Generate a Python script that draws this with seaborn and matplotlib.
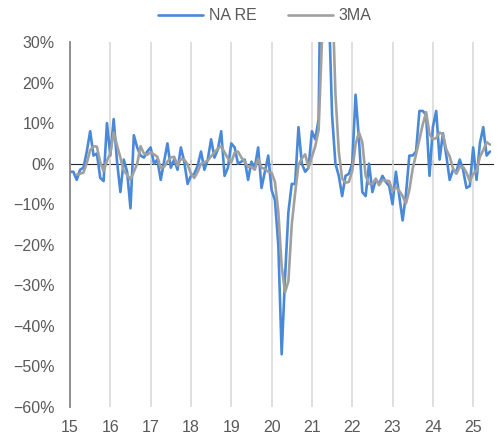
import numpy as np
import pandas as pd
import seaborn as sns
import matplotlib
matplotlib.use("Agg")
import matplotlib.pyplot as plt

# monthly YoY, Jan 2015 .. Jun 2025 (%)
na_re = [-2, -2, -4, -1.5, -1, 3, 8, 2, 2.5, -3.5, -4.3, 10,
         2, 11, 0.5, -7, 1, -2, -11, 7, 4, 2, 1.5, 3,
         4, 0, 1, -4, 0.5, 5, -1, 1, -1.5, 4, 0.5, -5,
         -3, -2.5, -0.5, 3, -1.5, 1, 6, 1.5, 3.5, 8, -3, -1,
         5, 4, 0, 0.5, 1, -4, 0.5, -1, 4, -6, -2, 2,
         -6.5, -9, -20, -47, -28, -12, -5, -5, 9, 0, -2, -1,
         8, 6, 11, 75, 80, 40, 12, 0, -3, -8, -3, -2.5,
         0, 17, 6, -7, -8, 0, -7, -4, -5, -3, -4.5, -5.5,
         -10, -2, -8, -14, -7.5, 2, 2, 3, 13, 13, 12, -3,
         9, 13, 1, 7.5, 2, -4, -1.5, -2, 1, -1.5, -6, -5.5,
         4, -4, 5, 9, 2, 3]

ma3 = [np.nan, np.nan, -2.7, -2.5, -2.2, 0.2, 3.3, 4.3, 4.2, 0.3, -1.8, 0.7,
       2.6, 7.7, 4.5, 1.5, -1.8, -2.7, -4.0, -2.0, 0.0, 4.3, 2.5, 2.2,
       2.8, 2.3, 1.7, -1.0, -0.8, 0.5, 1.5, 1.7, -0.5, 1.2, 1.0, -0.2,
       -2.5, -3.5, -2.0, 0.0, 0.3, 0.8, 1.8, 2.8, 3.7, 4.3, 2.8, 1.3,
       0.3, 2.7, 3.0, 1.5, 0.5, -0.8, -0.8, -1.5, 1.2, -1.0, -1.3, -2.0,
       -2.2, -4.5, -11.8, -25.3, -31.7, -29.0, -15.0, -7.3, -0.3, 1.3, 2.3, -1.0,
       1.7, 4.3, 8.3, 30.7, 55.3, 65.0, 44.0, 17.3, 3.0, -3.7, -4.7, -4.5,
       -1.8, 4.8, 7.7, 5.3, -3.0, -5.0, -5.0, -3.7, -5.3, -4.0, -4.2, -4.3,
       -6.7, -5.8, -6.7, -8.0, -9.8, -6.5, -1.2, 2.3, 6.0, 9.7, 12.7, 7.3,
       6.0, 6.3, 7.7, 7.2, 3.5, 1.8, -1.2, -2.5, -0.8, -0.8, -2.2, -4.3,
       -2.5, -1.8, 1.7, 3.3, 5.3, 4.7]

year_labels = ["15", "16", "17", "18", "19", "20", "21", "22", "23", "24", "25"]

df = pd.DataFrame({"m": np.arange(len(na_re)), "NA RE": na_re, "3MA": ma3})

sns.set_style("white")
plt.rcParams["font.family"] = ["Liberation Sans", "DejaVu Sans"]

fig = plt.figure(figsize=(4.98, 4.37), dpi=100)
ax = fig.add_axes([70 / 498, 1 - 407 / 437, 423 / 498, 365 / 437])

sns.lineplot(data=df, x="m", y="NA RE", color="#4a89d8", lw=1.9, ax=ax, label="NA RE")
sns.lineplot(data=df, x="m", y="3MA", color="#a0a0a0", lw=1.9, ax=ax, label="3MA")

ax.set_xlim(0, 125.9)
ax.set_ylim(-60, 30)
ax.set_xlabel("")
ax.set_ylabel("")

tc = "#595959"
ax.set_yticks(range(-60, 31, 10))
ax.set_yticklabels([f"{v}%".replace("-", "\u2212") for v in range(-60, 31, 10)],
                   fontsize=11.5, color=tc)
ax.tick_params(axis="y", direction="in", length=3.5, width=1.2, color="#888888", pad=11)

xt = [12 * k for k in range(len(year_labels))]
ax.set_xticks(xt)
ax.set_xticklabels(year_labels, fontsize=11.5, color=tc)
ax.tick_params(axis="x", length=0, pad=9)
ax.grid(axis="x", color="#d9d9d9", lw=1.2)
ax.grid(axis="y", visible=False)

for s in ["top", "right", "bottom"]:
    ax.spines[s].set_visible(False)
ax.spines["left"].set_color("#888888")
ax.spines["left"].set_linewidth(1.3)

# zero axis line with small year ticks
zx = ax.secondary_xaxis(60 / 90)
zx.set_xticks(xt)
zx.set_xticklabels([])
zx.tick_params(axis="x", direction="out", length=3, width=1.2, color="#808080")
zx.spines["bottom"].set_color("#808080")
zx.spines["bottom"].set_linewidth(1.5)

ax.legend(loc="center", bbox_to_anchor=(265 / 498, 1 - 16 / 437),
          bbox_transform=fig.transFigure, ncol=2, frameon=False,
          fontsize=11.5, handlelength=2.8, handletextpad=0.35,
          columnspacing=2.0, labelcolor=tc)

fig.savefig("out.png", dpi=100)
